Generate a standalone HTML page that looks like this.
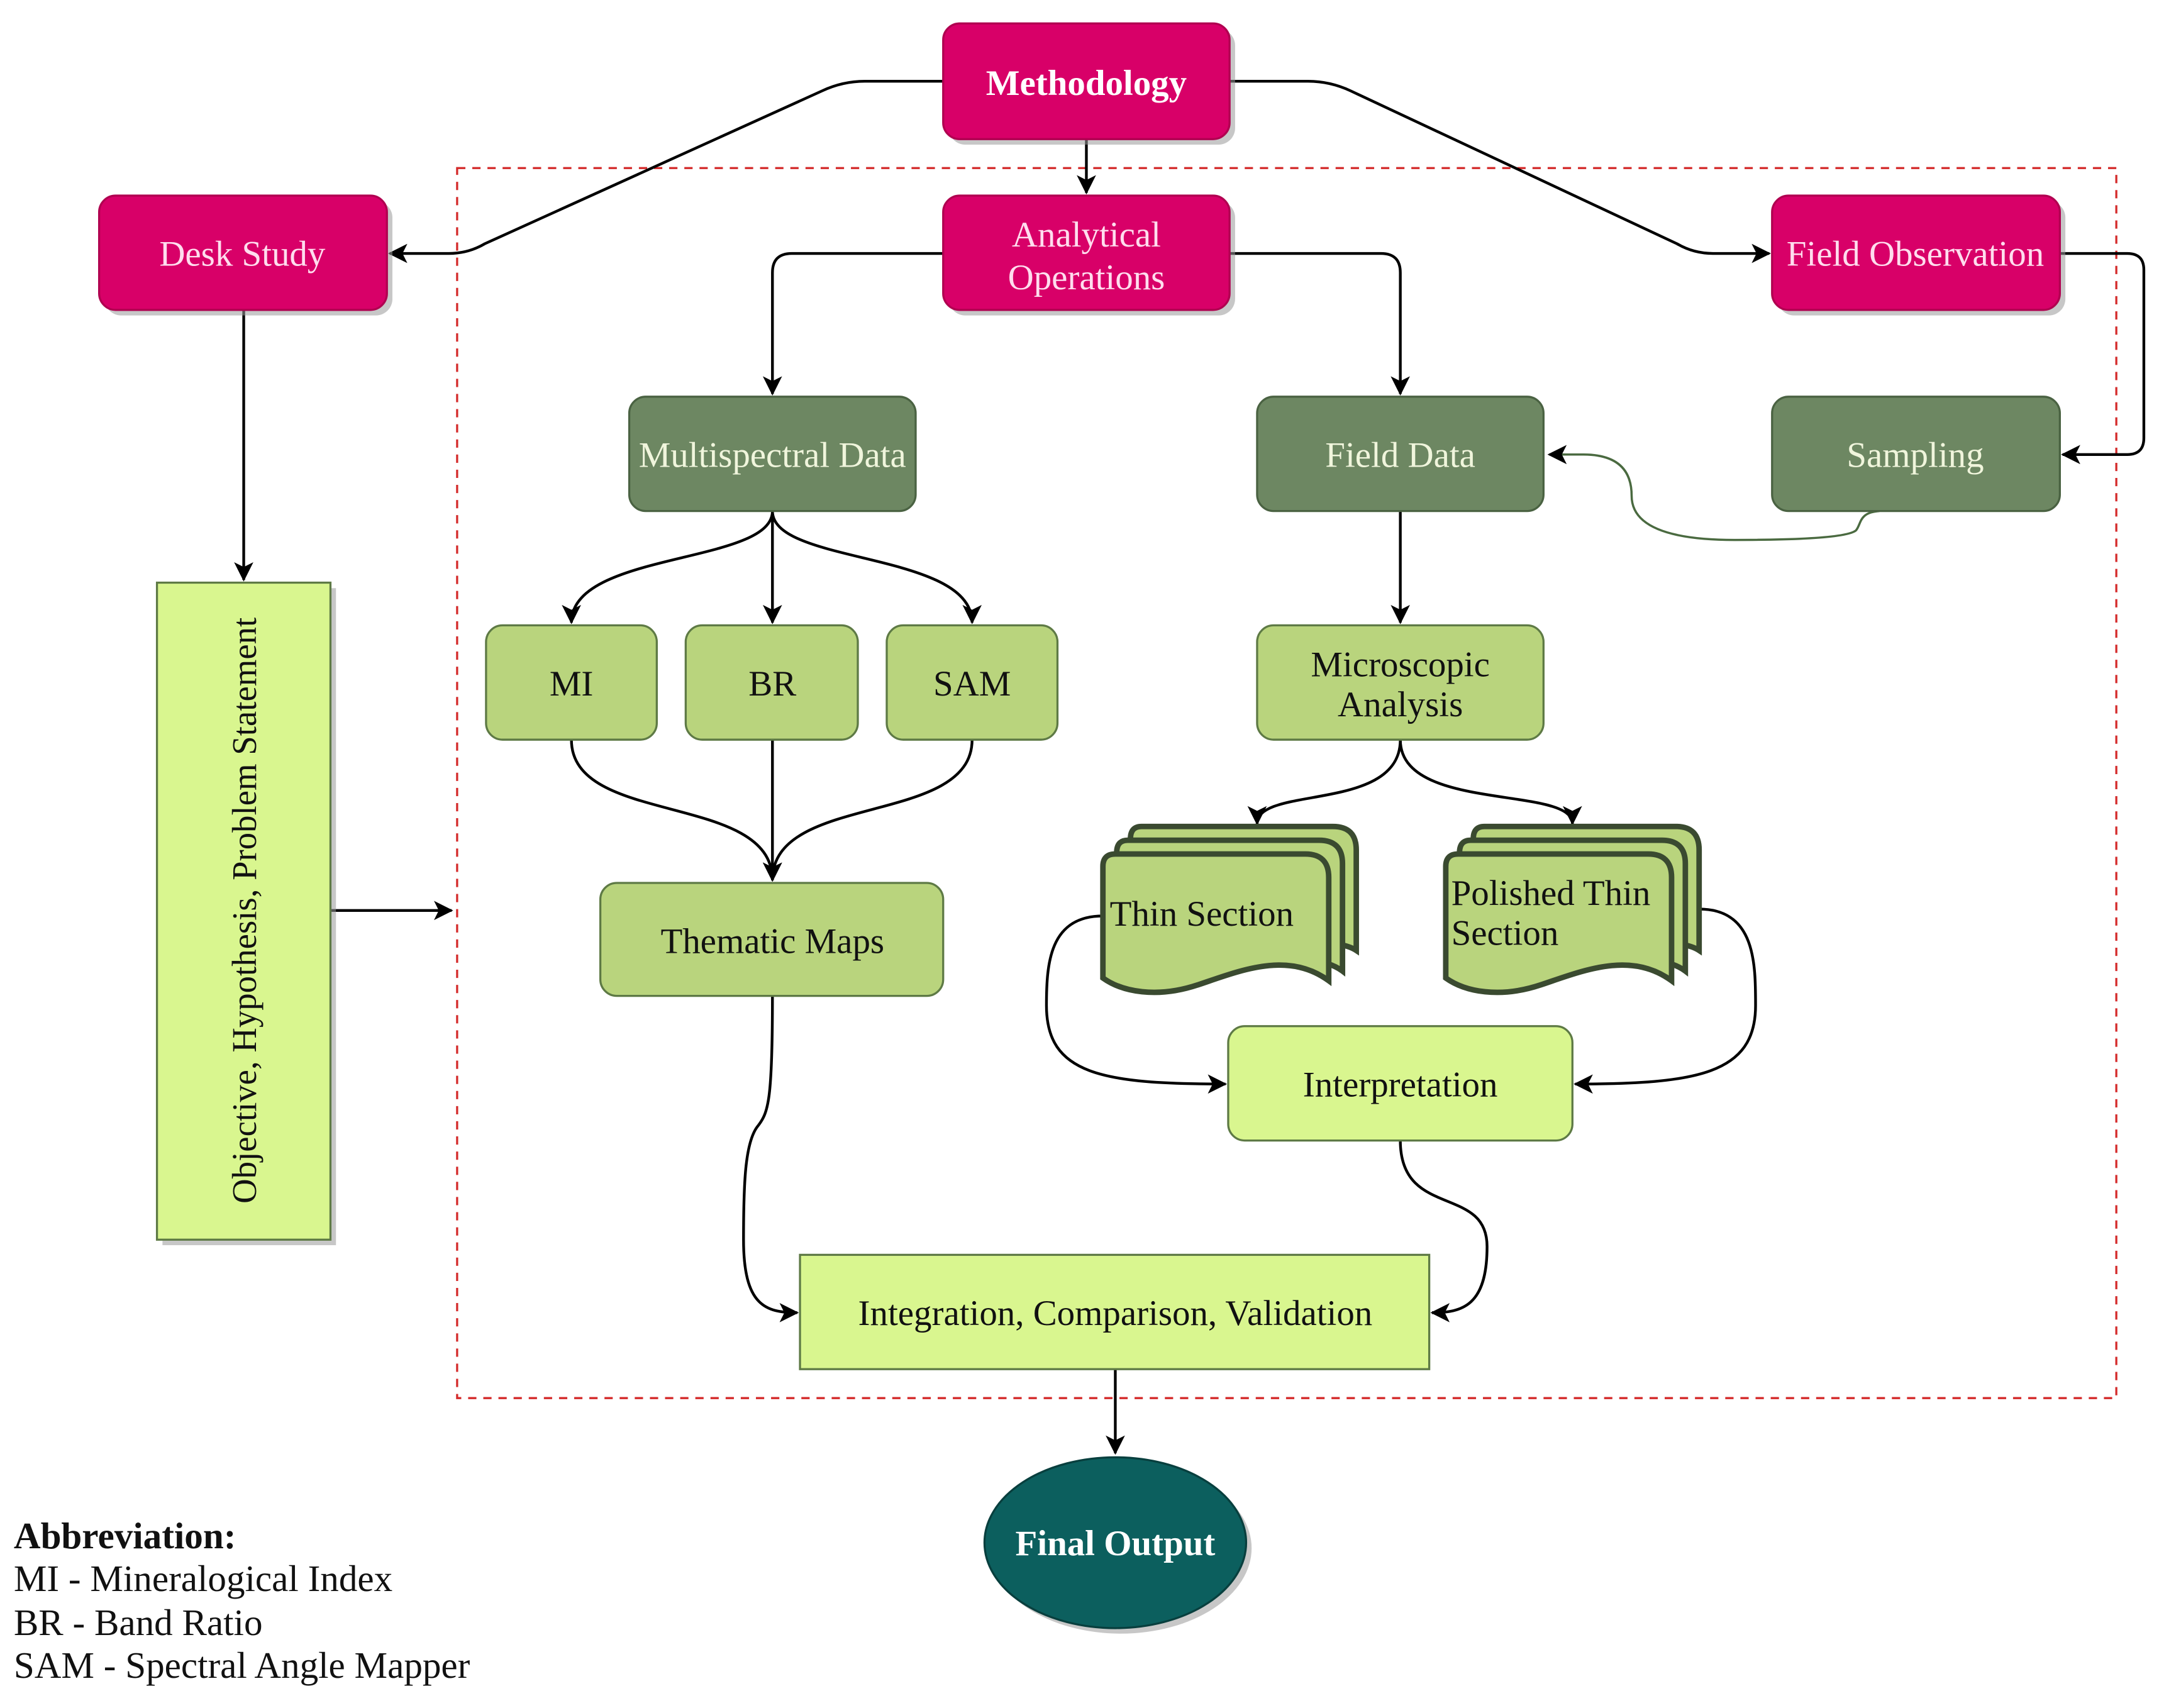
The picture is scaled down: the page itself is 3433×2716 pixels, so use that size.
<!DOCTYPE html>
<html><head><meta charset="utf-8"><style>
html,body{margin:0;padding:0;background:#fff}
svg{display:block}
text{font-family:"Liberation Serif","DejaVu Serif",serif}
</style></head><body>
<svg width="3433" height="2716" viewBox="0 0 1568 1240" preserveAspectRatio="none" xmlns="http://www.w3.org/2000/svg" font-family="Liberation Serif, DejaVu Serif, serif">
<defs>
<marker id="ag" viewBox="0 0 12 12" refX="11" refY="6" markerWidth="14" markerHeight="14" markerUnits="userSpaceOnUse" orient="auto">
<path d="M0,0 L12,6 L0,12 L3,6 Z" fill="#000"/></marker>
</defs>
<rect width="1568" height="1240" fill="#fff"/>
<rect x="332" y="122" width="1205" height="893" fill="none" stroke="#d42a2a" stroke-width="1.5" stroke-dasharray="6,5"/>

<g fill="none" stroke="#000" stroke-width="2">
<path d="M685,59 H628 Q612,59 597,66 L352,177 Q340,184 326,184 H283" marker-end="url(#ag)"/>
<path d="M893,59 H950 Q966,59 981,66 L1218,177 Q1230,184 1244,184 H1285" marker-end="url(#ag)"/>
<path d="M789,101 V140" marker-end="url(#ag)"/>
<path d="M685,184 H575 Q561,184 561,198 V286" marker-end="url(#ag)"/>
<path d="M893,184 H1003 Q1017,184 1017,198 V286" marker-end="url(#ag)"/>
<path d="M1496,184 H1545 Q1557,184 1557,196 V318 Q1557,330 1545,330 H1498" marker-end="url(#ag)"/>
<path d="M561,371 C561,410 415,400 415,452" marker-end="url(#ag)"/>
<path d="M561,371 V452" marker-end="url(#ag)"/>
<path d="M561,371 C561,410 706,400 706,452" marker-end="url(#ag)"/>
<path d="M1017,371 V452" marker-end="url(#ag)"/>
<path d="M415,537 C415,600 561,575 561,639" marker-end="url(#ag)"/>
<path d="M561,537 V639" marker-end="url(#ag)"/>
<path d="M706,537 C706,600 561,575 561,639" marker-end="url(#ag)"/>
<path d="M1017,537 C1017,590 913,570 913,598" marker-end="url(#ag)"/>
<path d="M1017,537 C1017,590 1142,570 1142,598" marker-end="url(#ag)"/>
<path d="M801,665 C762,665 760,700 760,730 C760,780 800,787 890,787" marker-end="url(#ag)"/>
<path d="M1234,660 C1275,660 1275,700 1275,730 C1275,780 1232,787 1144,787" marker-end="url(#ag)"/>
<path d="M561,723 C561,800 558,808 550,818 C541,830 540,860 540,900 C540,948 556,953 579,953" marker-end="url(#ag)"/>
<path d="M1017,828 C1017,885 1080,860 1080,905 C1080,948 1062,953 1040,953" marker-end="url(#ag)"/>
<path d="M810,994 V1055" marker-end="url(#ag)"/>
<path d="M177,225 V421" marker-end="url(#ag)"/>
<path d="M240,661 H328" marker-end="url(#ag)"/>
</g>
<path d="M1365,371 C1350,372 1352,380 1348,385 Q1340,392 1260,392 Q1185,392 1185,360 Q1185,330 1150,330 H1125" fill="none" stroke="#4a6a40" stroke-width="1.6" marker-end="url(#ag)"/>

<g fill="#999" opacity="0.55">
<rect x="689" y="21" width="208" height="84" rx="12"/>
<rect x="689" y="146" width="208" height="83" rx="12"/>
<rect x="76" y="146" width="209" height="83" rx="12"/>
<rect x="1291" y="146" width="209" height="83" rx="12"/>
<rect x="118" y="427" width="126" height="477"/>
<ellipse cx="814" cy="1124" rx="95" ry="62"/>
</g>

<g fill="#d80068" stroke="#b00050" stroke-width="1.5">
<rect x="685" y="17" width="208" height="84" rx="12"/>
<rect x="685" y="142" width="208" height="83" rx="12"/>
<rect x="72" y="142" width="209" height="83" rx="12"/>
<rect x="1287" y="142" width="209" height="83" rx="12"/>
</g>
<g fill="#6d8762" stroke="#4a6242" stroke-width="1.5">
<rect x="457" y="288" width="208" height="83" rx="12"/>
<rect x="913" y="288" width="208" height="83" rx="12"/>
<rect x="1287" y="288" width="209" height="83" rx="12"/>
</g>
<g fill="#b9d47d" stroke="#5e7a45" stroke-width="1.5">
<rect x="353" y="454" width="124" height="83" rx="12"/>
<rect x="498" y="454" width="125" height="83" rx="12"/>
<rect x="644" y="454" width="124" height="83" rx="12"/>
<rect x="913" y="454" width="208" height="83" rx="12"/>
<rect x="436" y="641" width="249" height="82" rx="12"/>
</g>
<g fill="#b9d47d" stroke="#3a4a30" stroke-width="4">
<path d="M829,600 H968 Q985,600 985,617 V690 C970,680 930,685 821,690 V609 Q821,600 829,600 Z"/>
<path d="M819,610 H958 Q975,610 975,627 V705 C955,690 920,700 811,700 V619 Q811,610 819,610 Z"/>
<path d="M810,620 H948 Q965,620 965,637 V712 C935,690 900,705 870,715 C840,725 815,720 801,710 V629 Q801,620 810,620 Z"/>
<path d="M1078,600 H1217 Q1234,600 1234,617 V690 C1219,680 1179,685 1070,690 V609 Q1070,600 1078,600 Z"/>
<path d="M1068,610 H1207 Q1224,610 1224,627 V705 C1204,690 1169,700 1060,700 V619 Q1060,610 1068,610 Z"/>
<path d="M1059,620 H1197 Q1214,620 1214,637 V712 C1184,690 1149,705 1119,715 C1089,725 1064,720 1050,710 V629 Q1050,620 1059,620 Z"/>
</g>
<g fill="#d9f68f" stroke="#5e7a45" stroke-width="1.5">
<rect x="892" y="745" width="250" height="83" rx="12"/>
<rect x="581" y="911" width="457" height="83"/>
<rect x="114" y="423" width="126" height="477"/>
</g>
<ellipse cx="810" cy="1120" rx="95" ry="62" fill="#0c5f5e" stroke="#083f3e" stroke-width="1.5"/>

<g font-size="26" text-anchor="middle">
<text x="789" y="69" fill="#fff" font-weight="bold">Methodology</text>
<text x="789" y="179" fill="#fde">Analytical</text>
<text x="789" y="210" fill="#fde">Operations</text>
<text x="176" y="193" fill="#fde">Desk Study</text>
<text x="1391" y="193" fill="#fde">Field Observation</text>
<text x="561" y="339" fill="#f0f5dc">Multispectral Data</text>
<text x="1017" y="339" fill="#f0f5dc">Field Data</text>
<text x="1391" y="339" fill="#f0f5dc">Sampling</text>
<text x="415" y="505" fill="#111">MI</text>
<text x="561" y="505" fill="#111">BR</text>
<text x="706" y="505" fill="#111">SAM</text>
<text x="1017" y="491" fill="#111">Microscopic</text>
<text x="1017" y="520" fill="#111">Analysis</text>
<text x="561" y="692" fill="#111">Thematic Maps</text>
<text x="1017" y="796" fill="#111">Interpretation</text>
<text x="810" y="962" fill="#111">Integration, Comparison, Validation</text>
<text x="810" y="1129" fill="#fff" font-weight="bold">Final Output</text>
</g>
<g font-size="26" fill="#111">
<text x="806" y="672">Thin Section</text>
<text x="1054" y="657">Polished Thin</text>
<text x="1054" y="686">Section</text>
<text transform="translate(186,661) rotate(-90)" text-anchor="middle" font-size="25">Objective, Hypothesis, Problem Statement</text>
</g>
<g font-size="27" fill="#111">
<text x="10" y="1124" font-weight="bold">Abbreviation:</text>
<text x="10" y="1155">MI - Mineralogical Index</text>
<text x="10" y="1187">BR - Band Ratio</text>
<text x="10" y="1218">SAM - Spectral Angle Mapper</text>
</g>
</svg>
</body></html>
